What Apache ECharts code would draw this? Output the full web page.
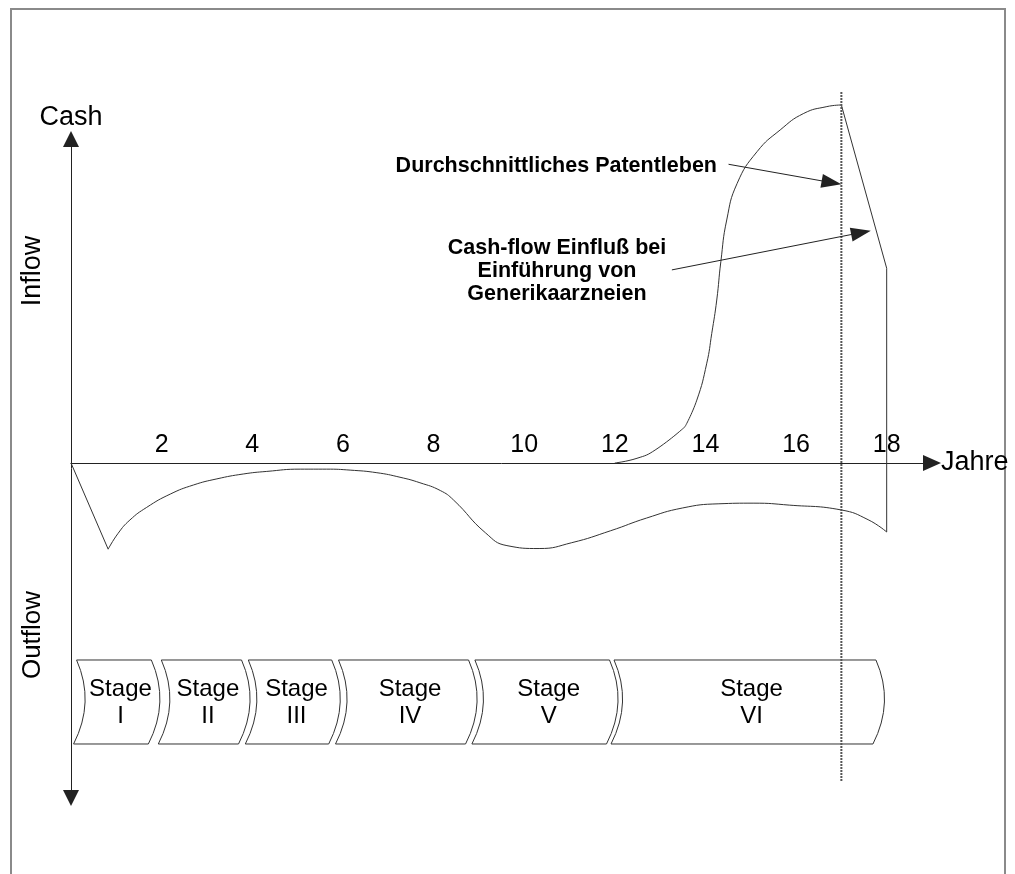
<!DOCTYPE html>
<html>
<head>
<meta charset="utf-8">
<title>Cash-flow im Lebenszyklus eines Arzneimittels</title>
<script src="https://cdn.jsdelivr.net/npm/echarts@6/dist/echarts.min.js"></script>
<style>
  html, body { margin: 0; padding: 0; background: #fff; }
  #chart { width: 1015px; height: 874px; }
</style>
</head>
<body>
<div id="chart"></div>
<script>
const FONT = '"Liberation Sans", Arial, Helvetica, sans-serif';
const INK = '#222';

// Year labels along the time axis
const yearTicks = [2, 4, 6, 8, 10, 12, 14, 16, 18];

// Development outflow: steep initial drop, then the curve through the stages
const dropYears = [0, 0.82];
const dropCash = [0, -26.6];
const outflowYears = [0.82, 1.04, 1.30, 1.67, 2.19, 2.70, 3.22, 3.80, 4.32, 5.06, 5.64, 6.16, 6.75, 7.26, 7.70, 8.15, 8.44, 9.15, 9.62, 10.33, 11.05, 11.91, 12.70, 13.49, 14.28, 15.07, 15.85, 17.00, 17.59, 18.0];
const outflowCash = [-26.6, -21.7, -17.6, -13.7, -9.6, -6.8, -4.9, -3.4, -2.6, -1.9, -1.9, -2.2, -3.0, -4.4, -6.1, -8.5, -11.4, -21.6, -25.5, -26.4, -24.6, -20.9, -17.0, -13.9, -12.6, -12.4, -13.0, -14.5, -17.5, -21.3];

// Market launch and inflow up to patent expiry
const launchYears = [12.0, 12.49, 12.89, 13.55];
const launchCash = [0, 1.45, 4.0, 11.2];
const inflowYears = [13.55, 13.81, 14.03, 14.14, 14.25, 14.34, 14.47, 14.70, 15.14, 15.65, 16.17, 16.68, 17.0];
const inflowCash = [11.2, 19.4, 30.8, 40.0, 50.3, 62.1, 75.0, 86.3, 96.1, 102.8, 107.9, 110.0, 110.5];

// Drop after generic entry, closing onto the outflow curve
const genericYears = [17.0, 18.0, 18.0];
const genericCash = [110.5, 60.1, -21.3];

// Average patent life
const patentYear = 17;
const patentLineCash = [114.5, -98.5];

// Development / market stages (years)
const stageNames = ['I', 'II', 'III', 'IV', 'V', 'VI'];
const stageStart = [0.09, 1.96, 3.88, 5.87, 8.88, 11.95];
const stageEnd = [1.74, 3.73, 5.72, 8.74, 11.85, 17.73];

// Annotation arrows: tail and tip in (year, cash)
const noteTailYear = [14.51, 13.26];
const noteTailCash = [92.2, 59.6];
const noteTipYear = [17.0, 17.65];
const noteTipCash = [86.0, 71.7];
const noteTexts = ['Durchschnittliches Patentleben', 'Cash-flow Einfluß bei\nEinführung von\nGenerikaarzneien'];

const zip = (xs, ys) => xs.map((x, i) => [x, ys[i]]);

// Plot layout and value range of the cash axis
const CHART_H = 874;
const GRID = { left: 71, right: 83, top: 139, bottom: 76 };
const CASH_MIN = -103.4, CASH_MAX = 100;
// shift of the time axis from the top edge of the grid down to cash = 0
const zeroShift = (CHART_H - GRID.top - GRID.bottom) * CASH_MAX / (CASH_MAX - CASH_MIN);

const curveStyle = { color: '#333', width: 1 };

function lineSeries(data, extra) {
  return Object.assign({
    type: 'line',
    data: data,
    symbol: 'none',
    clip: false,
    silent: true,
    animation: false,
    lineStyle: curveStyle
  }, extra || {});
}

// Stage band drawn below the time axis, each box with curved chevron sides
function renderStage(params, api) {
  const xs = api.coord([api.value(0), 0])[0];
  const xe = api.coord([api.value(1), 0])[0];
  const zeroY = api.coord([0, 0])[1];
  const top = zeroY + 197;
  const bottom = zeroY + 281;
  const midY = (top + bottom) / 2;
  const slant = 3;
  const bend = 20;
  const d =
    'M' + (xs + slant / 2) + ' ' + top +
    ' L' + (xe + slant / 2) + ' ' + top +
    ' Q' + (xe + bend) + ' ' + midY + ' ' + (xe - slant / 2) + ' ' + bottom +
    ' L' + (xs - slant / 2) + ' ' + bottom +
    ' Q' + (xs + bend) + ' ' + midY + ' ' + (xs + slant / 2) + ' ' + top + ' Z';
  return {
    type: 'group',
    children: [
      {
        type: 'path',
        shape: { pathData: d },
        style: { fill: '#fff', stroke: '#333', lineWidth: 1 }
      },
      {
        type: 'text',
        x: (xs + xe) / 2 + 8,
        y: midY + 1,
        style: {
          text: 'Stage\n' + stageNames[params.dataIndex],
          fontFamily: FONT,
          fontSize: 24,
          lineHeight: 27,
          fill: '#000',
          align: 'center',
          verticalAlign: 'middle'
        }
      }
    ]
  };
}

// Straight pointer with a filled arrow head ending exactly at the tip
function renderNote(params, api) {
  const a = api.coord([api.value(0), api.value(1)]);
  const b = api.coord([api.value(2), api.value(3)]);
  const dx = b[0] - a[0], dy = b[1] - a[1];
  const len = Math.hypot(dx, dy);
  const ux = dx / len, uy = dy / len;
  const headL = 20, headW = 7;
  const bx = b[0] - ux * headL, by = b[1] - uy * headL;
  return {
    type: 'group',
    children: [
      {
        type: 'line',
        shape: { x1: a[0], y1: a[1], x2: bx + ux * 2, y2: by + uy * 2 },
        style: { stroke: INK, lineWidth: 1 }
      },
      {
        type: 'polygon',
        shape: { points: [[b[0], b[1]], [bx - uy * headW, by + ux * headW], [bx + uy * headW, by - ux * headW]] },
        style: { fill: INK }
      }
    ]
  };
}

const chart = echarts.init(document.getElementById('chart'), null, { renderer: 'canvas' });

chart.setOption({
  backgroundColor: '#fff',
  animation: false,
  grid: GRID,
  xAxis: {
    type: 'value',
    position: 'top',
    offset: -zeroShift,
    min: 0,
    max: 19,
    interval: 2,
    name: 'Jahre',
    nameLocation: 'end',
    nameGap: 9,
    nameTextStyle: { fontFamily: FONT, fontSize: 27, color: '#000' },
    axisLine: {
      onZero: false,
      symbol: ['none', 'triangle'],
      symbolSize: [16, 18],
      lineStyle: { color: INK, width: 1 }
    },
    axisTick: { show: false },
    splitLine: { show: false },
    axisLabel: {
      margin: 5,
      fontFamily: FONT,
      fontSize: 25,
      color: '#000',
      formatter: v => (yearTicks.includes(v) ? String(v) : '')
    }
  },
  yAxis: {
    type: 'value',
    min: CASH_MIN,
    max: CASH_MAX,
    name: 'Cash',
    nameLocation: 'end',
    nameGap: 8,
    nameTextStyle: { fontFamily: FONT, fontSize: 27, color: '#000' },
    axisLine: {
      show: true,
      onZero: false,
      symbol: ['triangle', 'triangle'],
      symbolSize: [16, 16],
      lineStyle: { color: INK, width: 1 }
    },
    axisTick: { show: false },
    splitLine: { show: false },
    axisLabel: { show: false }
  },
  graphic: [
    {
      type: 'rect',
      silent: true,
      z: -10,
      shape: { x: 11, y: 9, width: 994, height: 920 },
      style: { fill: 'none', stroke: '#8a8a8a', lineWidth: 2 }
    },
    {
      type: 'text',
      x: 33, y: 271,
      rotation: Math.PI / 2,
      style: { text: 'Inflow', fontFamily: FONT, fontSize: 27, fill: '#000', align: 'center', verticalAlign: 'middle' }
    },
    {
      type: 'text',
      x: 33, y: 635,
      rotation: Math.PI / 2,
      style: { text: 'Outflow', fontFamily: FONT, fontSize: 26, fill: '#000', align: 'center', verticalAlign: 'middle' }
    },
    {
      type: 'text',
      x: 717, y: 166,
      style: { text: noteTexts[0], fontFamily: FONT, fontWeight: 'bold', fontSize: 21.5, fill: '#000', align: 'right', verticalAlign: 'middle' }
    },
    {
      type: 'text',
      x: 557, y: 271,
      style: { text: noteTexts[1], fontFamily: FONT, fontWeight: 'bold', fontSize: 21.5, lineHeight: 23, fill: '#000', align: 'center', verticalAlign: 'middle' }
    }
  ],
  series: [
    lineSeries(zip(dropYears, dropCash)),
    lineSeries(zip(outflowYears, outflowCash), { smooth: 0.5 }),
    lineSeries(zip(launchYears, launchCash), { smooth: 0.5 }),
    lineSeries(zip(inflowYears, inflowCash), { smooth: 0.5 }),
    lineSeries(zip(genericYears, genericCash)),
    {
      type: 'custom',
      renderItem: renderStage,
      data: stageStart.map((s, i) => [s, stageEnd[i]]),
      encode: { x: [0, 1] },
      clip: false,
      silent: true,
      z: 2
    },
    // patent expiry line is drawn across the stage band
    lineSeries(patentLineCash.map(c => [patentYear, c]), {
      lineStyle: { color: '#555', width: 2, type: [2, 1] },
      z: 3
    }),
    {
      type: 'custom',
      renderItem: renderNote,
      data: noteTailYear.map((x, i) => [x, noteTailCash[i], noteTipYear[i], noteTipCash[i]]),
      encode: { x: [0, 2], y: [1, 3] },
      clip: false,
      silent: true,
      z: 5
    }
  ]
});
</script>
</body>
</html>
